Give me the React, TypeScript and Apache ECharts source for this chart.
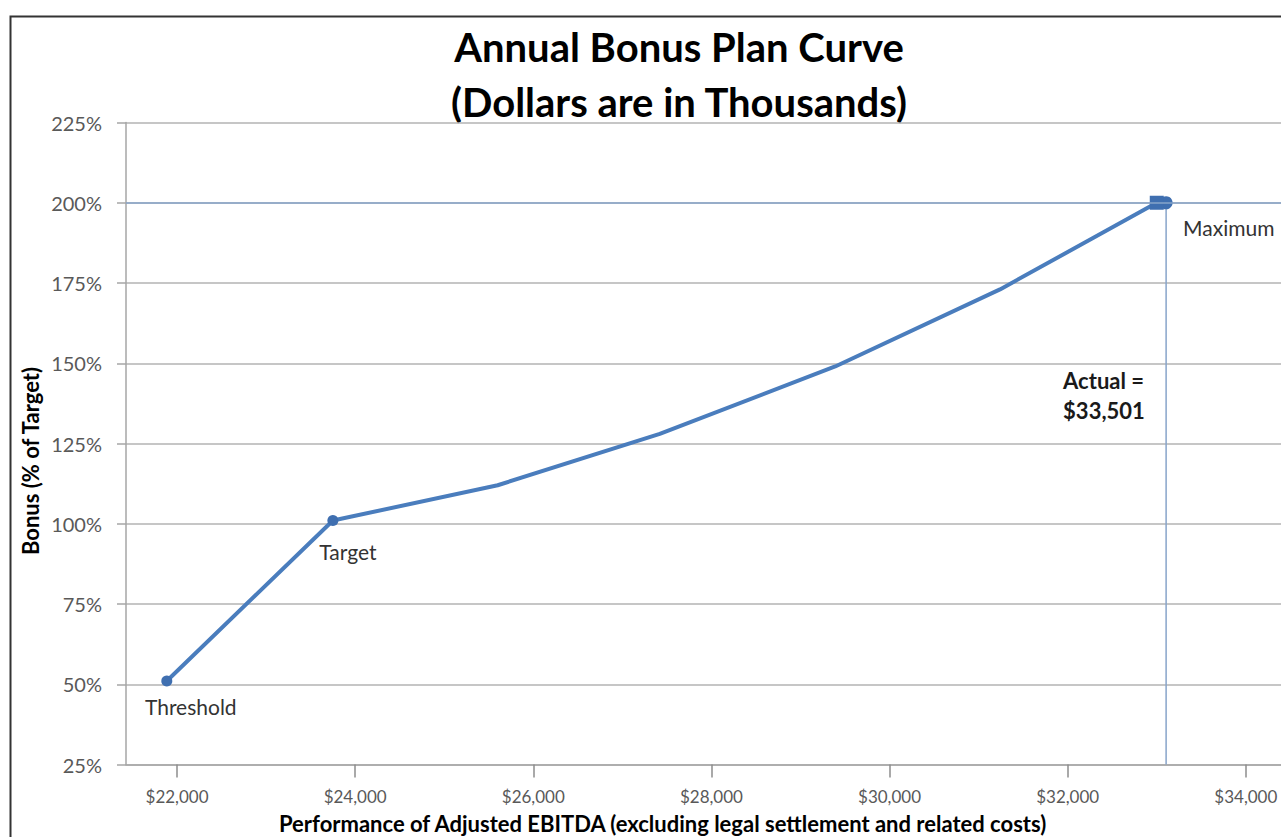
import React, { useEffect, useRef } from "react";
import * as echarts from "echarts";

// ---- data ----
const xTickValues = [22000, 24000, 26000, 28000, 30000, 32000, 34000];
const curveX = [21885, 23750, 25600, 27420, 29390, 31240, 33000];
const curveY = [51, 101, 112, 128, 149, 173, 200];
const pointNames = ["Threshold", "Target", "", "", "", "", "Maximum"];
const actualLineX = [33105, 33105];
const actualLineY = [200, 25];
const capLevel = 200;
const actualLabel = ["Actual =", "$33,501"];
const titleLines = ["Annual Bonus Plan Curve", "(Dollars are in Thousands)"];
const xAxisName = "Performance of Adjusted EBITDA (excluding legal settlement and related costs)";
const yAxisName = "Bonus (% of Target)";

const FONT = "Lato, 'Open Sans', sans-serif";

const labelOffsets: Record<string, number[]> = {
  Threshold: [24, 25],
  Target: [15, 31],
  Maximum: [72, 25],
};

export default function App() {
  const ref = useRef<HTMLDivElement>(null);
  useEffect(() => {
    if (!ref.current) return;
    const chart = echarts.init(ref.current, undefined, { renderer: "svg" });

    const curveData = curveX.map((x, i) => {
      const name = pointNames[i];
      const isMax = i === curveX.length - 1;
      return {
        value: [x, curveY[i]],
        symbol: name ? (isMax ? "rect" : "circle") : "none",
        symbolSize: isMax ? 14 : 11,
        label: name
          ? {
              show: true,
              formatter: name,
              position: "inside",
              offset: labelOffsets[name],
              color: "#333333",
              fontSize: 21,
              fontFamily: FONT,
            }
          : { show: false },
      };
    });

    const actualData = actualLineX.map((x, i) => ({
      value: [x, actualLineY[i]],
      symbol: i === 0 ? "circle" : "none",
      symbolSize: 13,
      label:
        i === 0
          ? {
              show: true,
              formatter: actualLabel.join("\n"),
              position: "inside",
              align: "left",
              verticalAlign: "middle",
              offset: [-103, 193],
              color: "#1a1a1a",
              fontSize: 22,
              fontWeight: "bold",
              lineHeight: 30,
              fontFamily: FONT,
            }
          : { show: false },
    }));

    chart.setOption({
      animation: false,
      backgroundColor: "#ffffff",
      grid: {
        left: 126,
        right: 0,
        top: 122.5,
        bottom: 72.5,
        containLabel: false,
        outerBoundsMode: "none",
      },
      xAxis: {
        type: "value",
        min: 21427,
        max: 34395,
        axisLine: { show: true, lineStyle: { color: "#a6a6a6", width: 1.5 } },
        axisTick: {
          show: true,
          length: 13,
          customValues: xTickValues,
          lineStyle: { color: "#8c8c8c", width: 1.5 },
        },
        axisLabel: {
          customValues: xTickValues,
          formatter: (v: number) => "$" + v.toLocaleString("en-US"),
          margin: 23,
          fontSize: 17,
          color: "#595959",
          fontFamily: FONT,
        },
        splitLine: { show: false },
      },
      yAxis: {
        type: "value",
        min: 25,
        max: 225,
        interval: 25,
        axisLine: { show: true, lineStyle: { color: "#a6a6a6", width: 1.5 } },
        axisTick: { show: true, length: 9, lineStyle: { color: "#a6a6a6", width: 1.5 } },
        axisLabel: {
          formatter: "{value}%",
          margin: 24,
          fontSize: 20,
          color: "#595959",
          fontFamily: FONT,
        },
        splitLine: { show: true, lineStyle: { color: "#b3b3b3", width: 1.5 } },
      },
      series: [
        {
          type: "line",
          name: "Actual",
          data: actualData,
          z: 2,
          lineStyle: { color: "#87a4ca", width: 1.5 },
          itemStyle: { color: "#3f6fb0" },
          markLine: {
            silent: true,
            symbol: "none",
            label: { show: false },
            lineStyle: { color: "#87a4ca", width: 1.5, type: "solid" },
            data: [{ yAxis: capLevel }],
          },
        },
        {
          type: "line",
          name: "Bonus",
          data: curveData,
          z: 3,
          showSymbol: true,
          lineStyle: { color: "#4a7dbd", width: 4 },
          itemStyle: { color: "#3f6fb0" },
        },
      ],
      graphic: [
        {
          type: "rect",
          left: 8,
          top: 14,
          silent: true,
          shape: { width: 1400, height: 900 },
          style: { fill: "none", stroke: "#333333", lineWidth: 2 },
        },
        {
          type: "text",
          x: 679,
          y: 47,
          style: {
            text: titleLines[0],
            fontSize: 40,
            fontWeight: "bold",
            fontFamily: FONT,
            fill: "#000000",
            align: "center",
            verticalAlign: "middle",
          },
        },
        {
          type: "text",
          x: 679,
          y: 102,
          style: {
            text: titleLines[1],
            fontSize: 40,
            fontWeight: "bold",
            fontFamily: FONT,
            fill: "#000000",
            align: "center",
            verticalAlign: "middle",
          },
        },
        {
          type: "text",
          x: 30,
          y: 461,
          rotation: Math.PI / 2,
          style: {
            text: yAxisName,
            fontSize: 22,
            fontWeight: "bold",
            fontFamily: FONT,
            fill: "#000000",
            align: "center",
            verticalAlign: "middle",
          },
        },
        {
          type: "text",
          x: 279,
          y: 823,
          style: {
            text: xAxisName,
            fontSize: 22,
            fontWeight: "bold",
            fontFamily: FONT,
            fill: "#000000",
            align: "left",
            verticalAlign: "middle",
          },
        },
      ],
    });
    return () => chart.dispose();
  }, []);

  return (
    <div
      ref={ref}
      style={{ position: "fixed", left: 0, top: 0, width: 1281, height: 837 }}
    />
  );
}
